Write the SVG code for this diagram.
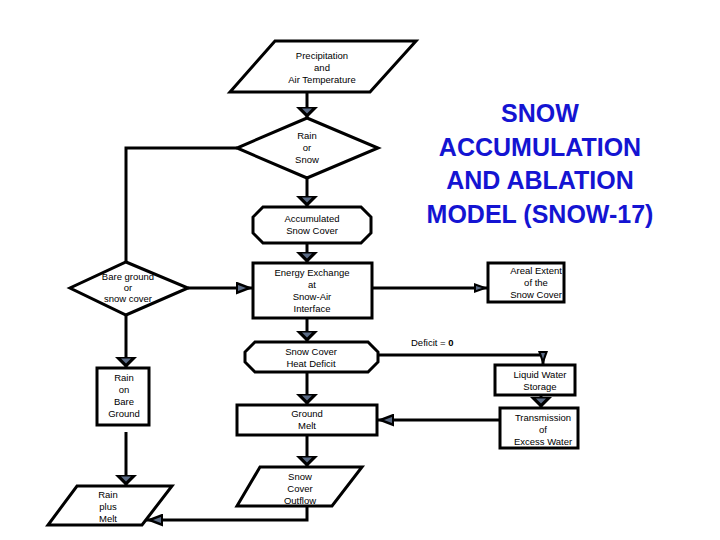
<svg xmlns="http://www.w3.org/2000/svg" width="720" height="540" viewBox="0 0 720 540">
<style>
.n{fill:#fff;stroke:#000;stroke-width:3;stroke-linejoin:miter}
.t{font-family:"Liberation Sans",Arial,sans-serif;font-size:9.5px;fill:#000;text-anchor:middle}
.c{fill:none;stroke:#000;stroke-width:3}
.title{font-family:"Liberation Sans",Arial,sans-serif;font-size:25px;font-weight:bold;fill:#1414d2;text-anchor:middle}
</style>
<defs>
<marker id="big" viewBox="0 0 11 22" markerWidth="11" markerHeight="22" refX="11" refY="11" orient="auto" markerUnits="userSpaceOnUse">
<path d="M0,0 L11,11 L0,22 Z" fill="#000"/><path d="M1.5,6 L6.5,11 L1.5,16 Z" fill="#5c6c86"/>
</marker>
<marker id="mid" viewBox="0 0 17 13" markerWidth="17" markerHeight="13" refX="17" refY="6.5" orient="auto" markerUnits="userSpaceOnUse">
<path d="M0,0 L17,6.5 L0,13 Z" fill="#000"/><path d="M2,3.5 L10,6.5 L2,9.5 Z" fill="#5c6c86"/>
</marker>
<marker id="sm" viewBox="0 0 14 10" markerWidth="14" markerHeight="10" refX="14" refY="5" orient="auto" markerUnits="userSpaceOnUse">
<path d="M0,0 L14,5 L0,10 Z" fill="#000"/><path d="M2,3 L8,5 L2,7 Z" fill="#5c6c86"/>
</marker>
</defs>
<rect width="720" height="540" fill="#fff"/>
<g id="connectors">
<line class="c" x1="307" y1="92" x2="307" y2="118" marker-end="url(#big)"/>
<line class="c" x1="307" y1="178" x2="307" y2="207" marker-end="url(#big)"/>
<line class="c" x1="307" y1="243" x2="307" y2="263" marker-end="url(#big)"/>
<line class="c" x1="307" y1="318" x2="307" y2="342" marker-end="url(#big)"/>
<line class="c" x1="307" y1="372" x2="307" y2="405" marker-end="url(#big)"/>
<line class="c" x1="307" y1="435" x2="307" y2="467" marker-end="url(#big)"/>
<polyline class="c" points="237,148 126,148 126,262"/>
<line class="c" x1="188" y1="288" x2="253" y2="288" marker-end="url(#mid)"/>
<line class="c" x1="372" y1="288" x2="488" y2="288" marker-end="url(#sm)"/>
<polyline class="c" points="378,355 543,355 543,365" marker-end="url(#sm)"/>
<line class="c" x1="541" y1="395" x2="541" y2="408" marker-end="url(#big)"/>
<line class="c" x1="500" y1="420" x2="377" y2="420" marker-end="url(#mid)"/>
<line class="c" x1="126" y1="315" x2="126" y2="368" marker-end="url(#big)"/>
<line class="c" x1="126" y1="432" x2="126" y2="486" marker-end="url(#big)"/>
<polyline class="c" points="307,506 307,520 146,520" marker-end="url(#mid)"/>
<text class="t" x="411" y="346" style="text-anchor:start">Deficit = <tspan font-weight="bold">0</tspan></text>
</g>
<g id="precip">
<polygon class="n" points="275,41 416,41 370,92 230,92"/>
<text class="t" x="322" y="59">Precipitation</text>
<text class="t" x="322" y="71">and</text>
<text class="t" x="322" y="83">Air Temperature</text>
</g>
<g id="rainsnow">
<polygon class="n" points="307,118 378,148 307,178 237,148"/>
<text class="t" x="307" y="139">Rain</text>
<text class="t" x="307" y="151">or</text>
<text class="t" x="307" y="163">Snow</text>
</g>
<g id="accum">
<polygon class="n" points="263,207 361,207 371,217 371,233 361,243 263,243 253,233 253,217"/>
<text class="t" x="312" y="222">Accumulated</text>
<text class="t" x="312" y="234">Snow Cover</text>
</g>
<g id="energy">
<rect class="n" x="253" y="263" width="119" height="55"/>
<text class="t" x="312" y="276">Energy Exchange</text>
<text class="t" x="312" y="288">at</text>
<text class="t" x="312" y="300">Snow-Air</text>
<text class="t" x="312" y="312">Interface</text>
</g>
<g id="bareground">
<polygon class="n" points="126,262 188,288 126,315 70,288"/>
<text class="t" x="128" y="280">Bare ground</text>
<text class="t" x="128" y="291">or</text>
<text class="t" x="128" y="302">snow cover</text>
</g>
<g id="areal">
<rect class="n" x="488" y="263" width="76" height="39"/>
<text class="t" x="536" y="274">Areal Extent</text>
<text class="t" x="536" y="286">of the</text>
<text class="t" x="536" y="298">Snow Cover</text>
</g>
<g id="deficit">
<polygon class="n" points="255,342 368,342 378,352 378,362 368,372 255,372 245,362 245,352"/>
<text class="t" x="311" y="355">Snow Cover</text>
<text class="t" x="311" y="367">Heat Deficit</text>
</g>
<g id="liquid">
<rect class="n" x="495" y="365" width="80" height="30"/>
<text class="t" x="540" y="378">Liquid Water</text>
<text class="t" x="540" y="390">Storage</text>
</g>
<g id="transmission">
<rect class="n" x="500" y="408" width="78" height="40"/>
<text class="t" x="543" y="421">Transmission</text>
<text class="t" x="543" y="433">of</text>
<text class="t" x="543" y="445">Excess Water</text>
</g>
<g id="groundmelt">
<rect class="n" x="237" y="405" width="140" height="30"/>
<text class="t" x="307" y="417">Ground</text>
<text class="t" x="307" y="429">Melt</text>
</g>
<g id="rainbare">
<rect class="n" x="97" y="368" width="52" height="57"/>
<text class="t" x="124" y="381">Rain</text>
<text class="t" x="124" y="393">on</text>
<text class="t" x="124" y="405">Bare</text>
<text class="t" x="124" y="417">Ground</text>
</g>
<g id="outflow">
<polygon class="n" points="260,467 362,467 332,506 237,506"/>
<text class="t" x="300" y="480">Snow</text>
<text class="t" x="300" y="492">Cover</text>
<text class="t" x="300" y="504">Outflow</text>
</g>
<g id="rainmelt">
<polygon class="n" points="77,486 172,486 142,525 48,525"/>
<text class="t" x="108" y="498">Rain</text>
<text class="t" x="108" y="510">plus</text>
<text class="t" x="108" y="522">Melt</text>
</g>
<g id="title">
<text class="title" x="540" y="122">SNOW</text>
<text class="title" x="540" y="156">ACCUMULATION</text>
<text class="title" x="540" y="189">AND ABLATION</text>
<text class="title" x="540" y="223">MODEL (SNOW-17)</text>
</g>
</svg>
